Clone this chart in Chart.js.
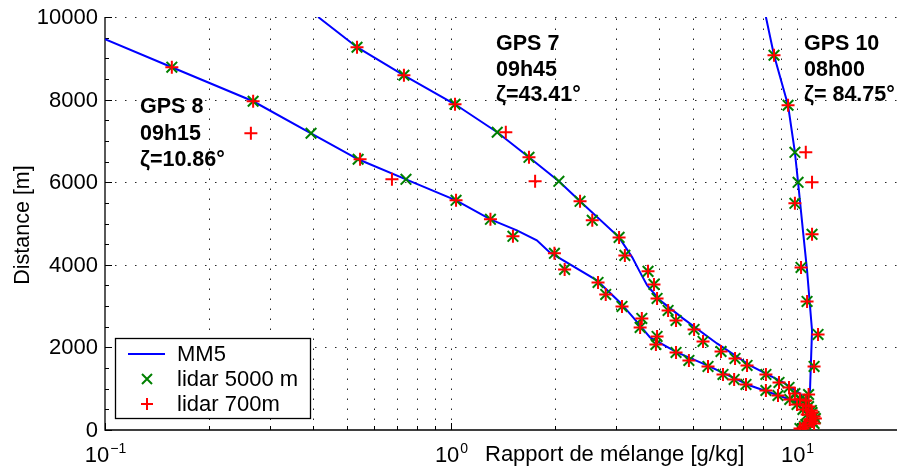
<!DOCTYPE html>
<html lang="fr">
<head>
    <meta charset="UTF-8">
    <title>Rapport de mélange - GPS / lidar / MM5</title>
    <style>
        body { margin: 0; background: #fff; }
        canvas { display: block; }
    </style>
</head>
<body>
<canvas id="grafico" width="897" height="469"></canvas>

<script src="https://cdn.jsdelivr.net/npm/chart.js@4/dist/chart.umd.min.js"></script>
<script type="text/javascript">
        // --- MM5 profiles (mixing ratio g/kg, altitude m) ---
        var mm5Gps8X = [0.1, 0.156, 0.268, 0.394, 0.539, 0.741, 1.034, 1.30, 1.55, 1.77, 1.93, 2.64, 3.08, 3.36, 3.76, 4.50, 5.50, 7.31, 9.36, 10.2, 10.7, 10.8, 10.5, 10.2];
        var mm5Gps8Y = [9462, 8784, 7960, 7185, 6555, 6070, 5561, 5101, 4834, 4592, 4301, 3622, 3089, 2726, 2241, 1878, 1563, 1078, 763, 666, 473, 279, 109, 0];

        var mm5Gps7X = [0.413, 0.535, 0.731, 1.027, 1.36, 1.68, 2.05, 2.36, 3.06, 3.34, 3.52, 3.69, 4.02, 4.68, 5.87, 7.31, 9.11, 10.2, 10.8, 11.0, 10.6, 10.3];
        var mm5Gps7Y = [10000, 9268, 8589, 7887, 7209, 6603, 6021, 5537, 4664, 4180, 3816, 3501, 3138, 2702, 2096, 1563, 1151, 884, 594, 351, 133, 0];

        var mm5Gps10X = [8.13, 8.58, 9.42, 9.86, 10.07, 10.4, 10.69, 11.05, 10.9, 10.6, 10.8, 11.05, 10.5, 10.3];
        var mm5Gps10Y = [10000, 9074, 7863, 6724, 5997, 4834, 3864, 2411, 957, 715, 473, 279, 109, 0];

        // --- lidar profiles: altitude, 5000 m (green) and 700 m (red) ---
        var gps8Alt   = [8784, 7960, 7185, 6555, 6070, 5561, 5101, 4689, 4277, 3889, 3574, 3283, 2992, 2702, 2484, 2266, 2072, 1878, 1684, 1539, 1345, 1224, 1103, 957, 836, 739, 618, 497, 376, 254, 133, 36];
        var gps8L5000 = [0.156, 0.268, 0.394, 0.539, 0.741, 1.034, 1.30, 1.51, 1.99, 2.13, 2.66, 2.80, 3.12, 3.56, 3.52, 3.94, 3.91, 4.47, 4.87, 5.53, 6.11, 6.58, 7.12, 8.13, 8.81, 9.53, 10.0, 10.4, 10.7, 10.9, 10.6, 10.2];
        var gps8L700  = [0.156, 0.268, 0.264, 0.546, 0.675, 1.034, 1.30, 1.51, 1.99, 2.13, 2.66, 2.80, 3.12, 3.56, 3.52, 3.94, 3.91, 4.47, 4.87, 5.53, 6.11, 6.58, 7.12, 8.13, 8.81, 9.53, 10.0, 10.4, 10.7, 10.9, 10.6, 10.2];

        var gps7Alt   = [9268, 8589, 7887, 7209, 6603, 6021, 5537, 5076, 4664, 4228, 3841, 3526, 3186, 2896, 2653, 2435, 2145, 1903, 1733, 1563, 1345, 1151, 1030, 884, 739, 594, 473, 327, 206, 85];
        var gps7L5000 = [0.535, 0.731, 1.027, 1.36, 1.68, 2.05, 2.36, 2.56, 3.06, 3.18, 3.71, 3.86, 3.94, 4.24, 4.47, 5.04, 5.35, 6.03, 6.62, 7.17, 8.13, 8.87, 9.48, 9.86, 10.2, 10.6, 11.0, 11.2, 11.05, 10.5];
        var gps7L700  = [0.535, 0.731, 1.027, 1.44, 1.68, 1.75, 2.36, 2.56, 3.06, 3.18, 3.71, 3.86, 3.94, 4.24, 4.47, 5.04, 5.35, 6.03, 6.62, 7.17, 8.13, 8.87, 9.48, 9.86, 10.2, 10.6, 11.0, 11.2, 11.05, 10.5];

        var gps10Alt   = [9074, 7863, 6724, 5997, 5488, 4737, 3937, 3114, 2314, 1539, 860, 715, 569, 424, 279, 157, 36];
        var gps10L5000 = [8.58, 9.42, 9.86, 10.07, 9.86, 11.05, 10.27, 10.69, 11.5, 11.2, 10.8, 10.6, 10.8, 11.05, 11.3, 11.2, 10.4];
        var gps10L700  = [8.58, 9.42, 10.6, 11.05, 9.86, 11.05, 10.27, 10.69, 11.5, 11.2, 10.8, 10.6, 10.8, 11.05, 11.3, 11.2, 10.4];

        // axis ticks and labels
        var yTicks = [0, 2000, 4000, 6000, 8000, 10000];
        var xTickExp = [-1, 0, 1];
        var xTitle = 'Rapport de mélange [g/kg]';
        var yTitle = 'Distance [m]';
        var legendLabels = ['MM5', 'lidar 5000 m', 'lidar 700m'];
        var gps8Text = ['GPS 8', '09h15', 'ζ=10.86°'];
        var gps7Text = ['GPS 7', '09h45', 'ζ=43.41°'];
        var gps10Text = ['GPS 10', '08h00', 'ζ= 84.75°'];

        var FONT = '"Liberation Sans", Arial, Helvetica, sans-serif';
        var BLUE = '#0000ff', GREEN = '#008000', RED = '#ff0000';

        function pts(xs, ys) {
            return xs.map(function (v, i) { return {x: v, y: ys[i]}; });
        }
        function lineSet(xs, ys) {
            return {data: pts(xs, ys), showLine: true, pointRadius: 0, borderColor: BLUE, borderWidth: 2, tension: 0, order: 2};
        }
        function greenSet(xs, ys) {
            return {data: pts(xs, ys), showLine: false, pointStyle: 'crossRot', pointRadius: 7.5, pointBorderWidth: 2,
                borderColor: GREEN, backgroundColor: GREEN, order: 1};
        }
        function redSet(xs, ys) {
            return {data: pts(xs, ys), showLine: false, pointStyle: 'cross', pointRadius: 6.5, pointBorderWidth: 2,
                borderColor: RED, backgroundColor: RED, order: 0};
        }

        // grid positions on the log axis (1..9 in every decade)
        var xGrid = [];
        for (var d = 0.1; d < 15; d *= 10) {
            for (var k = 1; k <= 9; k++) xGrid.push(+(d * k).toPrecision(3));
        }

        const decor = {
            id: 'decor',
            beforeDatasetsDraw(chart) {
                const {ctx, chartArea: a, scales: {x, y}} = chart;
                ctx.save();
                // dotted grid
                ctx.strokeStyle = 'rgba(0,0,0,0.85)';
                ctx.lineWidth = 1;
                ctx.setLineDash([1.5, 8.5]);
                xGrid.forEach(function (v) {
                    const px = Math.round(x.getPixelForValue(v)) + 0.5;
                    if (px <= a.left + 1 || px > a.right) return;
                    ctx.beginPath(); ctx.moveTo(px, a.bottom); ctx.lineTo(px, a.top); ctx.stroke();
                });
                yTicks.forEach(function (v) {
                    if (v === 0) return;
                    const py = Math.round(y.getPixelForValue(v)) + 0.5;
                    ctx.beginPath(); ctx.moveTo(a.left, py); ctx.lineTo(a.right, py); ctx.stroke();
                });
                ctx.setLineDash([]);
                // axes
                ctx.strokeStyle = '#000';
                ctx.lineWidth = 1.3;
                ctx.beginPath();
                ctx.moveTo(a.left, a.top); ctx.lineTo(a.left, a.bottom); ctx.lineTo(a.right, a.bottom);
                ctx.stroke();
                // inward ticks
                ctx.lineWidth = 1;
                xGrid.forEach(function (v) {
                    const px = Math.round(x.getPixelForValue(v)) + 0.5;
                    if (px > a.right) return;
                    const major = xTickExp.some(function (e) { return Math.abs(Math.pow(10, e) - v) < 1e-9; });
                    ctx.beginPath(); ctx.moveTo(px, a.bottom); ctx.lineTo(px, a.bottom - (major ? 7 : 4)); ctx.stroke();
                });
                for (let v = 0; v <= 10000; v += 500) {
                    const py = Math.round(y.getPixelForValue(v)) + 0.5;
                    const major = v % 2000 === 0;
                    ctx.beginPath(); ctx.moveTo(a.left, py); ctx.lineTo(a.left + (major ? 7 : 4), py); ctx.stroke();
                }
                ctx.restore();
            },
            afterDraw(chart) {
                const {ctx, chartArea: a, scales: {x, y}} = chart;
                ctx.save();
                ctx.fillStyle = '#000';
                // y tick labels
                ctx.font = '22px ' + FONT;
                ctx.textAlign = 'right';
                ctx.textBaseline = 'middle';
                yTicks.forEach(function (v) {
                    ctx.fillText(String(v), 98, y.getPixelForValue(v) + 1);
                });
                // x tick labels 10^n
                ctx.textAlign = 'left';
                ctx.textBaseline = 'alphabetic';
                xTickExp.forEach(function (e) {
                    const px = x.getPixelForValue(Math.pow(10, e));
                    const sup = e < 0 ? '\u2212' + Math.abs(e) : String(e);
                    ctx.font = '22px ' + FONT;
                    const w1 = ctx.measureText('10').width;
                    ctx.font = '14px ' + FONT;
                    const w2 = ctx.measureText(sup).width;
                    const x0 = px - (w1 + w2) / 2;
                    ctx.font = '22px ' + FONT;
                    ctx.fillText('10', x0, 462);
                    ctx.font = '14px ' + FONT;
                    ctx.fillText(sup, x0 + w1 + 1, 453);
                });
                // axis titles
                ctx.font = '22px ' + FONT;
                ctx.fillText(xTitle, 485, 461);
                ctx.save();
                ctx.font = '21.5px ' + FONT;
                ctx.translate(29, 225);
                ctx.rotate(-Math.PI / 2);
                ctx.textAlign = 'center';
                ctx.fillText(yTitle, 0, 0);
                ctx.restore();
                // annotations
                ctx.font = 'bold 21.5px ' + FONT;
                ctx.textAlign = 'left';
                gps8Text.forEach(function (t, i) { ctx.fillText(t, 140, 113 + i * 26.5); });
                gps7Text.forEach(function (t, i) { ctx.fillText(t, 496, 50 + i * 25.5); });
                gps10Text.forEach(function (t, i) { ctx.fillText(t, 804, 50 + i * 25.5); });
                // legend
                ctx.fillStyle = '#fff';
                ctx.fillRect(115.5, 338.5, 195, 80);
                ctx.strokeStyle = '#000';
                ctx.lineWidth = 1.3;
                ctx.strokeRect(115.5, 338.5, 195, 80);
                ctx.strokeStyle = BLUE; ctx.lineWidth = 2;
                ctx.beginPath(); ctx.moveTo(128, 354); ctx.lineTo(165, 354); ctx.stroke();
                ctx.strokeStyle = GREEN;
                ctx.beginPath();
                ctx.moveTo(142, 374); ctx.lineTo(152, 384); ctx.moveTo(152, 374); ctx.lineTo(142, 384);
                ctx.stroke();
                ctx.strokeStyle = RED;
                ctx.beginPath();
                ctx.moveTo(141, 404); ctx.lineTo(153, 404); ctx.moveTo(147, 398); ctx.lineTo(147, 410);
                ctx.stroke();
                ctx.fillStyle = '#000';
                ctx.font = '22px ' + FONT;
                ctx.textBaseline = 'middle';
                legendLabels.forEach(function (t, i) { ctx.fillText(t, 177, 355 + i * 25); });
                ctx.restore();
            }
        };

        var grafico = new Chart(document.getElementById('grafico'), {
            type: 'scatter',
            data: {
                datasets: [
                    lineSet(mm5Gps8X, mm5Gps8Y),
                    lineSet(mm5Gps7X, mm5Gps7Y),
                    lineSet(mm5Gps10X, mm5Gps10Y),
                    greenSet(gps8L5000, gps8Alt),
                    greenSet(gps7L5000, gps7Alt),
                    greenSet(gps10L5000, gps10Alt),
                    redSet(gps8L700, gps8Alt),
                    redSet(gps7L700, gps7Alt),
                    redSet(gps10L700, gps10Alt)
                ]
            },
            options: {
                responsive: false,
                animation: false,
                devicePixelRatio: 1,
                layout: {autoPadding: false, padding: {top: 17, left: 0, right: 0, bottom: 0}},
                plugins: {legend: {display: false}, tooltip: {enabled: false}},
                scales: {
                    x: {
                        type: 'logarithmic', position: 'bottom', min: 0.1, max: 19.45,
                        ticks: {display: false}, grid: {display: false}, border: {display: false},
                        afterFit: function (s) { s.height = 39; }
                    },
                    y: {
                        type: 'linear', position: 'left', min: 0, max: 10000,
                        ticks: {display: false}, grid: {display: false}, border: {display: false},
                        afterFit: function (s) { s.width = 105; }
                    }
                }
            },
            plugins: [decor]
        });
</script>
</body>
</html>
